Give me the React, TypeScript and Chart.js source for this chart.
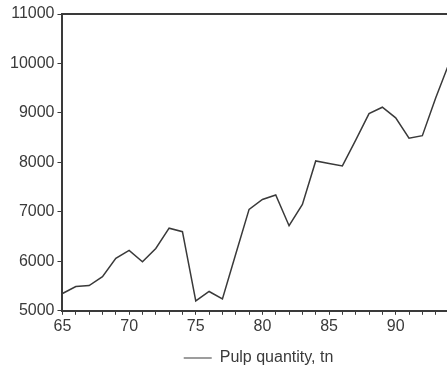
import React, { useEffect, useRef } from "react";
import { Chart, registerables } from "chart.js";

Chart.register(...registerables);

const years = [65, 66, 67, 68, 69, 70, 71, 72, 73, 74, 75, 76, 77, 78, 79, 80, 81, 82, 83, 84, 85, 86, 87, 88, 89, 90, 91, 92, 93, 94];
const pulp = [5350, 5490, 5510, 5690, 6060, 6220, 5990, 6260, 6670, 6600, 5200, 5390, 5240, 6150, 7050, 7250, 7340, 6720, 7150, 8030, 7980, 7930, 8450, 8985, 9115, 8900, 8490, 8540, 9300, 10000];
const seriesLabel = "Pulp quantity, tn";
const yTicks = [5000, 6000, 7000, 8000, 9000, 10000, 11000];

const INK = "#3a3a3a";
const FONT = "'Liberation Sans', Arial, sans-serif";

const topBorder = {
  id: "topBorder",
  afterDraw(chart: any) {
    const { ctx, chartArea } = chart;
    ctx.save();
    ctx.strokeStyle = INK;
    ctx.lineWidth = 2;
    ctx.beginPath();
    ctx.moveTo(chartArea.left, chartArea.top);
    ctx.lineTo(chartArea.right, chartArea.top);
    ctx.stroke();
    ctx.restore();
  },
};

export default function App() {
  const ref = useRef<HTMLCanvasElement>(null);
  useEffect(() => {
    document.body.style.margin = "0";
    const chart = new Chart(ref.current!, {
      type: "line",
      data: {
        datasets: [
          {
            label: seriesLabel,
            data: years.map((x, i) => ({ x, y: pulp[i] })),
            borderColor: INK,
            backgroundColor: INK,
            borderWidth: 1.5,
            pointRadius: 0,
            tension: 0,
          },
        ],
      },
      options: {
        responsive: false,
        animation: false,
        layout: { padding: { left: 7, top: 14, right: 0, bottom: 5 } },
        plugins: {
          tooltip: { enabled: false },
          legend: {
            position: "bottom",
            labels: {
              color: INK,
              font: { family: FONT, size: 16 },
              boxWidth: 28,
              boxHeight: 1,
              padding: 12,
              generateLabels: (c: any) =>
                c.data.datasets.map((d: any, i: number) => ({
                  text: d.label,
                  fillStyle: INK,
                  strokeStyle: INK,
                  lineWidth: 0,
                  datasetIndex: i,
                  fontColor: INK,
                })),
            },
          },
        },
        scales: {
          x: {
            type: "linear",
            min: 65,
            max: 94,
            grid: { display: true, drawOnChartArea: false, drawTicks: true, tickLength: 4, color: INK, lineWidth: 1 },
            border: { display: true, color: INK, width: 2 },
            ticks: {
              stepSize: 1,
              autoSkip: false,
              maxRotation: 0,
              color: INK,
              font: { family: FONT, size: 16 },
              padding: 2,
              callback: (v: any) => (Number(v) % 5 === 0 ? String(v) : ""),
            },
          },
          y: {
            min: 5000,
            max: 11000,
            afterBuildTicks: (s: any) => {
              s.ticks = yTicks.map((v) => ({ value: v }));
            },
            grid: { display: true, drawOnChartArea: false, drawTicks: true, tickLength: 5, color: INK, lineWidth: 1 },
            border: { display: true, color: INK, width: 2 },
            ticks: {
              color: INK,
              font: { family: FONT, size: 16 },
              padding: 3,
              callback: (v: any) => String(v),
            },
          },
          spacer: {
            position: "right",
            display: true,
            grid: { display: false },
            border: { display: false },
            ticks: { display: false },
            afterFit: (s: any) => {
              s.width = 61;
            },
          },
        },
      },
      plugins: [topBorder],
    });
    return () => chart.destroy();
  }, []);
  return (
    <div style={{ position: "absolute", left: 0, top: 0, width: 447, height: 381, overflow: "hidden", background: "#fff" }}>
      <canvas ref={ref} width={510} height={381} />
    </div>
  );
}
